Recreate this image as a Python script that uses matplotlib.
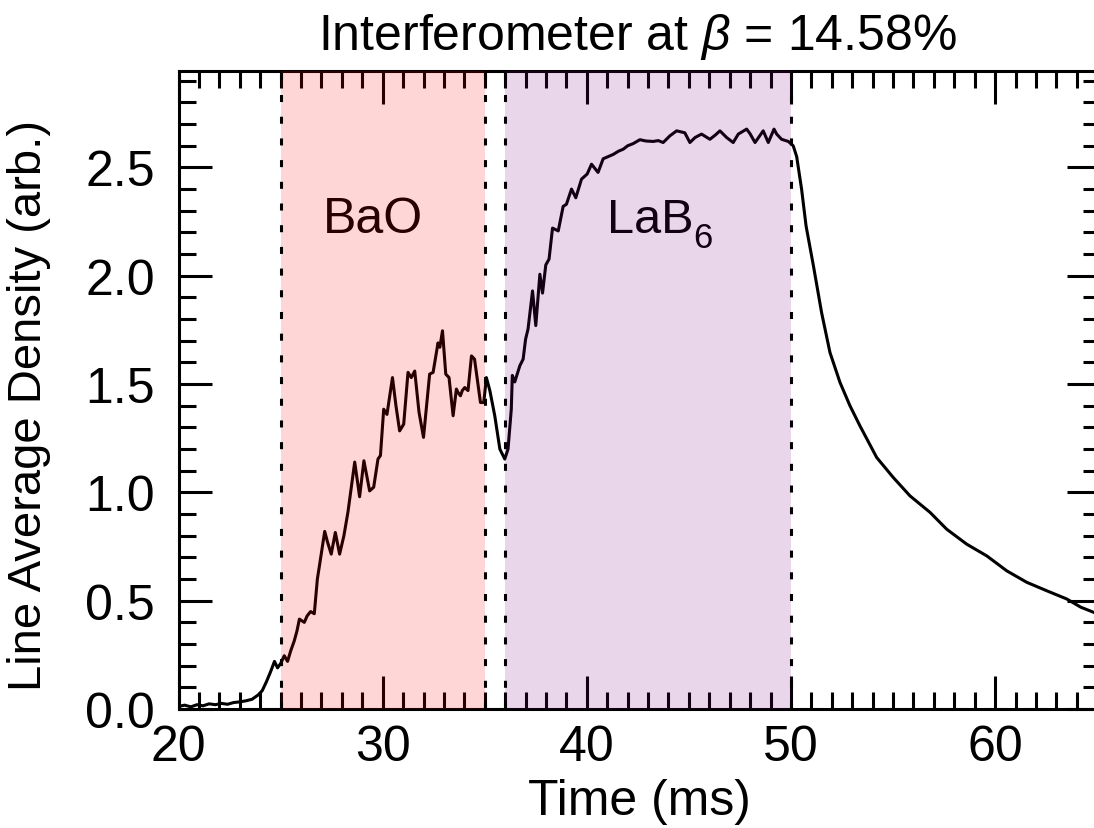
import matplotlib
matplotlib.use("Agg")
import matplotlib.pyplot as plt
from matplotlib.ticker import MultipleLocator

plt.rcParams['font.family'] = ['Liberation Sans', 'DejaVu Sans']
plt.rcParams['mathtext.fontset'] = 'custom'
plt.rcParams['mathtext.rm'] = 'Liberation Sans'
plt.rcParams['mathtext.it'] = 'Liberation Sans:italic'

# dati
time_ms = [20.0, 20.3, 20.6, 20.9, 21.2, 21.5, 21.8, 22.1, 22.4, 22.7, 23.0, 23.3, 23.6, 23.9,
           24.1, 24.3, 24.5, 24.7, 24.85, 25.0, 25.18, 25.34, 25.5, 25.67, 25.8, 25.92, 26.16,
           26.3, 26.47, 26.65, 26.8, 26.9, 27.16, 27.3, 27.48, 27.68, 27.89, 28.1, 28.3, 28.63,
           28.87, 29.08, 29.36, 29.56, 29.77, 29.89, 30.05, 30.21, 30.48, 30.65, 30.83, 31.03,
           31.24, 31.4, 31.57, 31.78, 32.0, 32.3, 32.47, 32.71, 32.8, 32.93, 33.09, 33.25, 33.45,
           33.61, 33.7, 33.81, 33.9, 34.02, 34.18, 34.35, 34.5, 34.79, 34.95, 35.08, 35.25,
           35.49, 35.74, 35.98, 36.14, 36.3, 36.35, 36.47, 36.72, 36.88, 37.0, 37.12, 37.34,
           37.5, 37.7, 37.83, 37.99, 38.15, 38.32, 38.6, 38.84, 39.0, 39.25, 39.46, 39.74, 40.02,
           40.23, 40.55, 40.8, 41.05, 41.29, 41.55, 41.78, 42.0, 42.27, 42.6, 42.9, 43.25, 43.5,
           43.74, 44.07, 44.4, 44.8, 45.05, 45.3, 45.62, 46.03, 46.3, 46.52, 46.85, 47.17, 47.42,
           47.83, 48.0, 48.24, 48.64, 48.89, 49.17, 49.3, 49.54, 49.87, 50.11, 50.28, 50.52,
           50.74, 51.1, 51.5, 51.91, 52.4, 52.89, 53.38, 54.2, 55.01, 55.83, 56.81, 57.63, 58.61,
           59.59, 60.57, 61.55, 62.53, 63.51, 64.2, 65.0]
density = [0.012, 0.018, 0.010, 0.020, 0.015, 0.024, 0.020, 0.026, 0.022, 0.030, 0.033, 0.038, 0.045, 0.065,
           0.085, 0.125, 0.17, 0.22, 0.19, 0.21, 0.246, 0.22, 0.27, 0.315, 0.36, 0.415, 0.40,
           0.43, 0.45, 0.44, 0.60, 0.66, 0.82, 0.77, 0.715, 0.815, 0.715, 0.80, 0.91, 1.14,
           0.98, 1.146, 1.007, 1.024, 1.154, 1.17, 1.384, 1.36, 1.53, 1.40, 1.284, 1.315,
           1.554, 1.53, 1.56, 1.37, 1.254, 1.546, 1.554, 1.69, 1.67, 1.746, 1.546, 1.53, 1.354,
           1.477, 1.46, 1.446, 1.47, 1.484, 1.47, 1.63, 1.615, 1.415, 1.415, 1.53, 1.47,
           1.354, 1.2, 1.154, 1.2, 1.384, 1.54, 1.51, 1.585, 1.615, 1.707, 1.754, 1.93,
           1.77, 2.007, 1.92, 2.05, 2.077, 2.22, 2.207, 2.32, 2.33, 2.40, 2.36, 2.446, 2.47,
           2.515, 2.477, 2.54, 2.55, 2.56, 2.575, 2.584, 2.60, 2.610, 2.628, 2.622, 2.620, 2.624,
           2.615, 2.646, 2.669, 2.660, 2.615, 2.638, 2.654, 2.630, 2.650, 2.669, 2.638, 2.615, 2.654,
           2.677, 2.655, 2.615, 2.669, 2.615, 2.677, 2.654, 2.630, 2.620, 2.60, 2.55, 2.40,
           2.23, 2.046, 1.83, 1.646, 1.508, 1.40, 1.307, 1.161, 1.069, 0.984, 0.908, 0.83, 0.761,
           0.707, 0.638, 0.585, 0.546, 0.508, 0.47, 0.44]

bao_window = [25, 35]
lab6_window = [36, 50]

fig = plt.figure(figsize=(10.94, 8.29), dpi=100)
# l'asse destro finisce appena fuori dall'immagine
ax = fig.add_axes([0.1632, 0.1435, 0.8425, 0.7696])

ax.plot(time_ms, density, color='black', lw=2.2, zorder=2)

# zone colorate sopra la curva (trasparenti)
ax.axvspan(bao_window[0], bao_window[1], color='red', alpha=0.16, lw=0, zorder=4)
ax.axvspan(lab6_window[0], lab6_window[1], color='purple', alpha=0.16, lw=0, zorder=4)
for x in bao_window + lab6_window:
    ax.axvline(x, color='black', lw=2.2, ls=(0, (2.3, 4.8)), zorder=5)

ax.text(27.06, 2.20, 'BaO', fontsize=36, ha='left', va='baseline', zorder=3)
ax.text(41.0, 2.20, 'LaB', fontsize=35, ha='left', va='baseline', zorder=3)
ax.text(45.2, 2.135, '6', fontsize=25, ha='left', va='baseline', zorder=3)

ax.set_xlim(20, 65.15)
ax.set_ylim(0, 2.945)
ax.xaxis.set_major_locator(MultipleLocator(10))
ax.xaxis.set_minor_locator(MultipleLocator(1))
ax.yaxis.set_major_locator(MultipleLocator(0.5))
ax.yaxis.set_minor_locator(MultipleLocator(0.1))
ax.yaxis.set_major_formatter('{x:.1f}')

ax.tick_params(which='both', direction='in', top=True, right=True, labelsize=36, width=2.2)
ax.tick_params(which='major', length=24)
ax.tick_params(which='minor', length=12.5)
ax.tick_params(axis='x', pad=11)
ax.tick_params(axis='y', pad=17)
for s in ax.spines.values():
    s.set_linewidth(2.2)
ax.spines['right'].set_visible(False)

ax.set_xlabel('Time (ms)', fontsize=36)
ax.set_ylabel('Line Average Density (arb.)', fontsize=34)
ax.xaxis.set_label_coords(0.5, -0.108)
ax.yaxis.set_label_coords(-0.138, 0.478)

fig.text(0.583, 0.9397, r'Interferometer at $\beta$ = 14.58%', fontsize=36, ha='center', va='baseline')

fig.savefig('out.png', dpi=100)
